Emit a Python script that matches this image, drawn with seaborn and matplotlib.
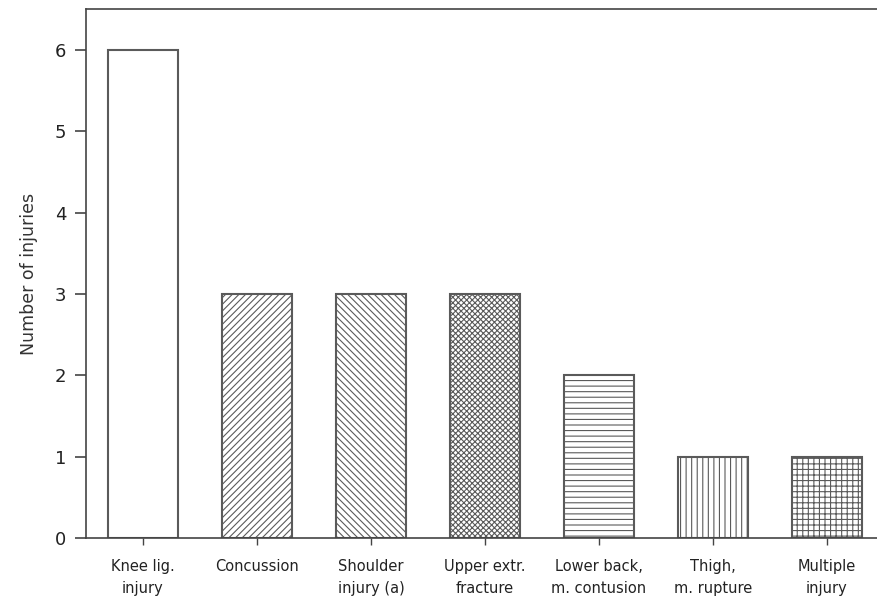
import pandas as pd
import seaborn as sns
import matplotlib.pyplot as plt

categories = ["Knee lig.\ninjury", "Concussion", "Shoulder\ninjury (a)", "Upper extr.\nfracture",
              "Lower back,\nm. contusion", "Thigh,\nm. rupture", "Multiple\ninjury"]
injuries = [6, 3, 3, 3, 2, 1, 1]
hatches = ["", "/////", "\\\\\\\\\\", "xxxxxx", "---", "|||", "+++"]

df = pd.DataFrame({"Injury": categories, "Count": injuries})

sns.set_style("white")
plt.rcParams["font.family"] = ["DejaVu Sans"]
plt.rcParams["hatch.linewidth"] = 0.8
plt.rcParams["hatch.color"] = "#3a3a3a"

fig = plt.figure(figsize=(8.77, 6.02), dpi=100)
ax = fig.add_axes([0.098, 0.106, 0.902, 0.879])

sns.barplot(data=df, x="Injury", y="Count", color="white", width=0.61,
            edgecolor="#5a5a5a", linewidth=1.5, ax=ax)

for patch, h in zip(ax.patches, hatches):
    patch.set_hatch(h)

ax.set_xlim(-0.5, 6.44)
ax.set_ylim(0, 6.5)
ax.set_yticks(range(0, 7))
ax.set_xlabel("")
ax.set_ylabel("Number of injuries", fontsize=12.5, color="#333333", labelpad=12)

ax.tick_params(axis="y", labelsize=13, length=8, width=1.2, color="#444444",
               labelcolor="#222222", direction="out", left=True, pad=6)
ax.tick_params(axis="x", labelsize=10.5, length=5, width=1.0, color="#444444",
               labelcolor="#222222", direction="out", bottom=True, pad=10)
for lab in ax.get_xticklabels():
    lab.set_linespacing(1.6)
    lab.set_verticalalignment("top")

for side in ["left", "bottom", "top"]:
    ax.spines[side].set_color("#444444")
    ax.spines[side].set_linewidth(1.2)
ax.spines["right"].set_visible(False)

fig.savefig("out.png", dpi=100)
plt.close(fig)
